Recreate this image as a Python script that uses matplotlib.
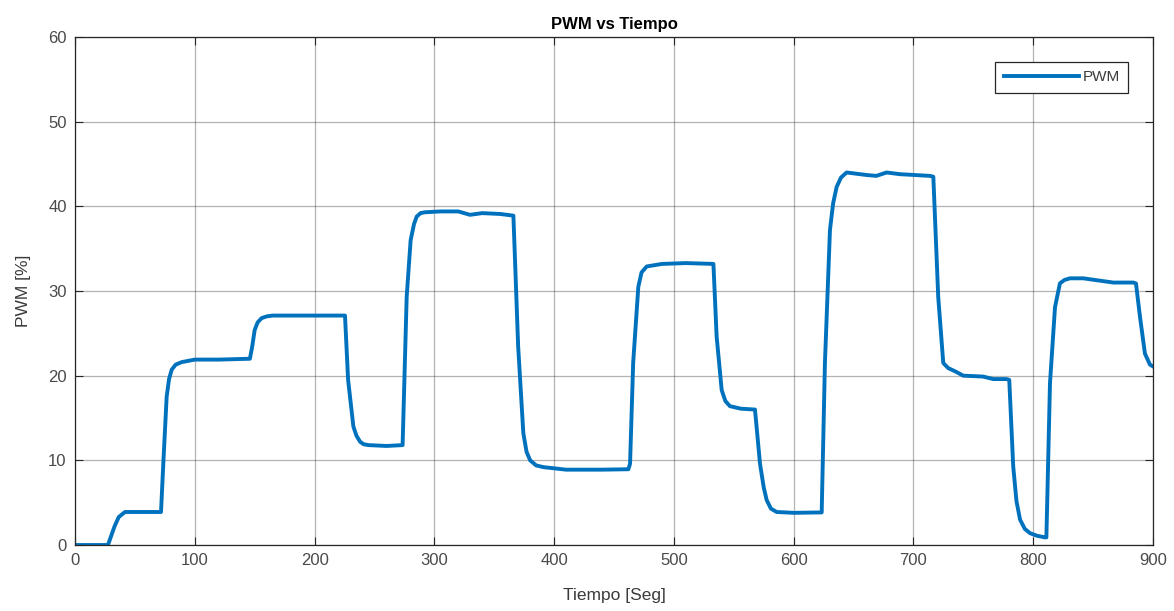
import matplotlib
matplotlib.use("Agg")
import matplotlib.pyplot as plt

# breakpoints (time in s, PWM in %)
tiempo = [0, 27.5, 30, 33, 36.5, 41.7, 50, 60, 71.8, 73.7, 76.5, 78.5, 80.7, 84, 89, 100, 120, 146,
          148, 150, 152.5, 155.8, 160, 165, 180, 200, 225.4, 228, 232.4, 235, 238, 241, 245, 260, 273.5,
          276.9, 280.2, 283, 285.3, 288.5, 292, 305, 320, 329.8, 340, 355, 366,
          370, 374.3, 377, 380, 385, 391, 410, 440, 462, 463.4, 466, 470.3, 473, 477.3, 490, 510, 533,
          535.7, 539.9, 543, 546.8, 556, 567.7, 571.9, 575, 577.5, 581, 585.8, 600, 623.4,
          626.1, 630.3, 633, 635.9, 639.5, 644.2, 661, 669, 677.6, 688.7, 713.8, 716.6,
          720.7, 724.9, 729, 735, 741.6, 758, 766.7, 777.8, 780, 783.3, 786, 789, 793, 797.3, 803, 809.8,
          811, 814, 818.2, 822.3, 826, 830.7, 841.8, 866.8, 883.5, 885.8, 889.1, 893.3, 897.5, 900]
pwm = [0, 0, 1.0, 2.2, 3.3, 3.9, 3.9, 3.9, 3.9, 9.6, 17.5, 19.6, 20.7, 21.3, 21.6, 21.9, 21.9, 22.0,
       23.5, 25.4, 26.3, 26.8, 27.0, 27.1, 27.1, 27.1, 27.1, 19.5, 14.0, 12.9, 12.2, 11.9, 11.8, 11.7, 11.8,
       29.3, 36.0, 37.9, 38.8, 39.2, 39.3, 39.4, 39.4, 39.0, 39.2, 39.1, 38.9,
       23.4, 13.2, 11.0, 10.0, 9.4, 9.2, 8.9, 8.9, 8.95, 9.6, 21.5, 30.5, 32.2, 32.9, 33.2, 33.3, 33.2,
       24.6, 18.3, 17.0, 16.4, 16.1, 16.0, 9.6, 6.8, 5.3, 4.3, 3.9, 3.8, 3.85,
       21.5, 37.2, 40.4, 42.3, 43.4, 44.0, 43.7, 43.6, 44.0, 43.8, 43.6, 43.5,
       29.3, 21.5, 20.9, 20.5, 20.0, 19.9, 19.6, 19.6, 19.5, 9.3, 5.2, 3.0, 1.9, 1.4, 1.1, 0.9,
       0.9, 19.1, 28.1, 30.9, 31.3, 31.5, 31.5, 31.0, 31.0, 30.9, 27.0, 22.6, 21.3, 21.1]

x_ticks = [0, 100, 200, 300, 400, 500, 600, 700, 800, 900]
y_ticks = [0, 10, 20, 30, 40, 50, 60]

plt.rcParams['font.family'] = ['Liberation Sans', 'DejaVu Sans']

fig = plt.figure(figsize=(11.74, 6.11), dpi=100)
ax = fig.add_axes([0.0639, 0.108, 0.9182, 0.8314])

ax.plot(tiempo, pwm, color='#0072BD', linewidth=2.8, label='PWM')

ax.set_xlim(0, 900)
ax.set_ylim(0, 60)
ax.set_xticks(x_ticks)
ax.set_yticks(y_ticks)
ax.tick_params(direction='in', length=6, width=0.8, top=True, right=True,
               labelsize=12, colors='#262626', labelcolor='#4a4a4a', pad=6)
ax.grid(True, color='#262626', alpha=0.35, linewidth=0.9)
for s in ax.spines.values():
    s.set_color('#262626')
    s.set_linewidth(0.9)

ax.set_title('PWM vs Tiempo', fontsize=12, fontweight='bold', color='black', pad=6)
ax.set_xlabel('Tiempo [Seg]', fontsize=12.5, color='#3a3a3a', labelpad=14)
ax.set_ylabel('PWM [%]', fontsize=12.5, color='#3a3a3a', labelpad=12)

leg = ax.legend(loc='upper right', bbox_to_anchor=(0.977, 0.951), borderaxespad=0,
                fancybox=False, framealpha=1, edgecolor='#262626', handlelength=4.9,
                fontsize=11, borderpad=0.55, handletextpad=0.25, labelcolor='#3a3a3a')
leg.get_frame().set_linewidth(0.9)

fig.savefig('out.png', dpi=100)
